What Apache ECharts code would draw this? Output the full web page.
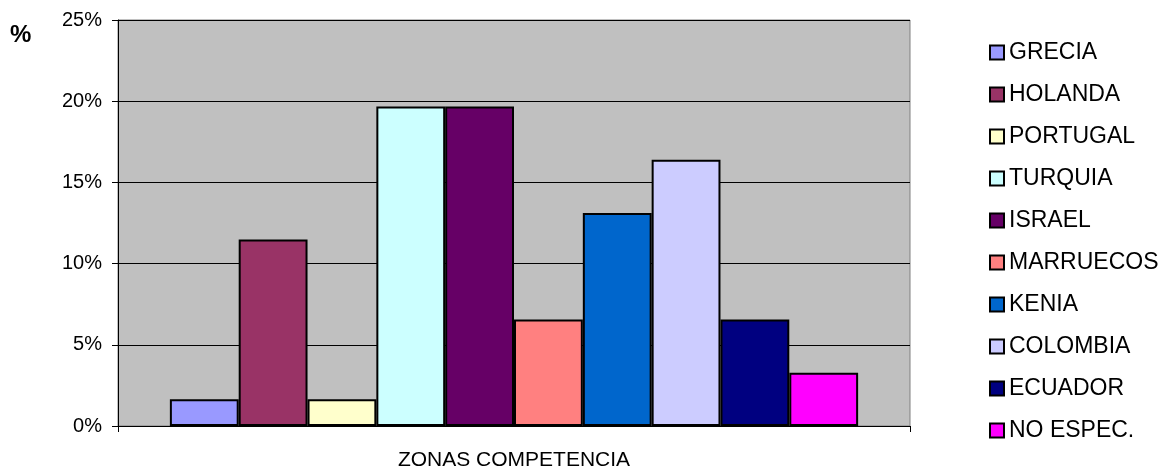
<!DOCTYPE html>
<html>
<head>
<meta charset="utf-8">
<script src="https://cdn.jsdelivr.net/npm/echarts@6/dist/echarts.min.js"></script>
<style>
  html, body { margin: 0; padding: 0; background: #fff; }
  #chart { width: 1166px; height: 467px; }
</style>
</head>
<body>
<div id="chart"></div>
<script>
// Share of each competing zone (percent of responses)
const countries = ['GRECIA', 'HOLANDA', 'PORTUGAL', 'TURQUIA', 'ISRAEL', 'MARRUECOS', 'KENIA', 'COLOMBIA', 'ECUADOR', 'NO ESPEC.'];
const shares = [1.64, 11.48, 1.64, 19.67, 19.67, 6.56, 13.11, 16.39, 6.56, 3.28];
const colors = ['#9999FF', '#993366', '#FFFFCC', '#CCFFFF', '#660066', '#FF8080', '#0066CC', '#CCCCFF', '#000080', '#FF00FF'];
const categories = [''];
const axisName = 'ZONAS COMPETENCIA';

const FONT = 'Liberation Sans, Arial, sans-serif';
const chart = echarts.init(document.getElementById('chart'), null, { renderer: 'canvas' });

const series = countries.map((name, i) => ({
  name: name,
  type: 'bar',
  data: [shares[i]],
  barGap: '0%',
  barCategoryGap: '13.1%',
  itemStyle: { color: colors[i], borderColor: '#000', borderWidth: 2 },
  emphasis: { disabled: true }
}));

chart.setOption({
  animation: false,
  textStyle: { fontFamily: FONT, color: '#000' },
  title: {
    text: '%',
    left: 10,
    top: 23,
    padding: 0,
    textStyle: { fontSize: 24, fontWeight: 'bold', color: '#000', fontFamily: FONT }
  },
  grid: {
    left: 118, right: 256, top: 20, bottom: 41,
    outerBoundsMode: 'none',
    containLabel: false,
    show: true, backgroundColor: '#C0C0C0', borderColor: '#808080', borderWidth: 1
  },
  legend: {
    orient: 'vertical',
    left: 984,
    top: 36,
    itemWidth: 14,
    itemHeight: 14,
    itemGap: 19,
    icon: 'rect',
    selectedMode: false,
    itemStyle: { borderColor: '#000', borderWidth: 2 },
    textStyle: { fontSize: 23, color: '#000', fontFamily: FONT },
    data: countries
  },
  xAxis: {
    type: 'category',
    data: categories,
    name: axisName,
    nameLocation: 'middle',
    nameGap: 24,
    nameTextStyle: { fontSize: 21, color: '#000', fontFamily: FONT },
    axisLine: { lineStyle: { color: '#000', width: 1 } },
    axisTick: { show: true, length: 6, alignWithLabel: false, lineStyle: { color: '#000' } },
    axisLabel: { show: false }
  },
  yAxis: {
    type: 'value',
    min: 0, max: 25, interval: 5,
    axisLine: { show: true, lineStyle: { color: '#000', width: 1 } },
    axisTick: { show: true, length: 6, lineStyle: { color: '#000' } },
    axisLabel: { formatter: '{value}%', fontSize: 20, color: '#000', margin: 16, fontFamily: FONT },
    splitLine: { show: true, lineStyle: { color: '#000', width: 1 } }
  },
  series: series
});
</script>
</body>
</html>
